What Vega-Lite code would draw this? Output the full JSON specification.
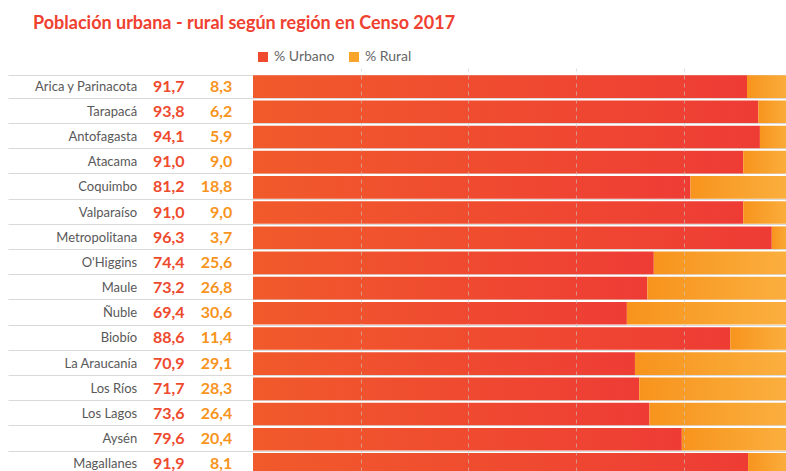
{
  "$schema": "https://vega.github.io/schema/vega-lite/v6.json",
  "autosize": {"type": "none"},
  "width": 778,
  "height": 397,
  "padding": {"left": 8, "top": 74, "right": 0, "bottom": 0},
  "background": "white",
  "title": {
    "text": "Población urbana - rural según región en Censo 2017",
    "anchor": "start",
    "dx": 25,
    "offset": 17,
    "font": "Lato",
    "fontSize": 18,
    "fontWeight": "bold",
    "color": "#EF4130"
  },
  "config": {
    "view": {"stroke": null},
    "locale": {"number": {"decimal": ",", "thousands": ".", "grouping": [3], "currency": ["$", ""]}}
  },
  "data": {
    "values": [
      {"region": "Arica y Parinacota", "urbano": 91.7, "rural": 8.3},
      {"region": "Tarapacá", "urbano": 93.8, "rural": 6.2},
      {"region": "Antofagasta", "urbano": 94.1, "rural": 5.9},
      {"region": "Atacama", "urbano": 91.0, "rural": 9.0},
      {"region": "Coquimbo", "urbano": 81.2, "rural": 18.8},
      {"region": "Valparaíso", "urbano": 91.0, "rural": 9.0},
      {"region": "Metropolitana", "urbano": 96.3, "rural": 3.7},
      {"region": "O'Higgins", "urbano": 74.4, "rural": 25.6},
      {"region": "Maule", "urbano": 73.2, "rural": 26.8},
      {"region": "Ñuble", "urbano": 69.4, "rural": 30.6},
      {"region": "Biobío", "urbano": 88.6, "rural": 11.4},
      {"region": "La Araucanía", "urbano": 70.9, "rural": 29.1},
      {"region": "Los Ríos", "urbano": 71.7, "rural": 28.3},
      {"region": "Los Lagos", "urbano": 73.6, "rural": 26.4},
      {"region": "Aysén", "urbano": 79.6, "rural": 20.4},
      {"region": "Magallanes", "urbano": 91.9, "rural": 8.1}
    ]
  },
  "encoding": {
    "y": {
      "field": "region",
      "type": "nominal",
      "sort": null,
      "scale": {"range": [0, 403], "paddingInner": 0.1, "paddingOuter": 0.05},
      "axis": {
        "title": null, "labels": false, "ticks": false, "domain": false,
        "grid": true, "tickBand": "extent", "gridColor": "#d9d9d9", "gridWidth": 1
      }
    }
  },
  "layer": [
    {
      "mark": {
        "type": "bar", "clip": true,
        "color": {"gradient": "linear", "x1": 0, "x2": 1, "y1": 0, "y2": 0,
          "stops": [{"offset": 0, "color": "#F15A2B"}, {"offset": 1, "color": "#EE3C35"}]}
      },
      "encoding": {
        "x": {
          "field": "urbano", "type": "quantitative",
          "scale": {"domain": [-45.48, 98.94], "nice": false, "zero": false},
          "axis": {
            "title": null, "labels": false, "ticks": false, "domain": false,
            "grid": true, "values": [20, 40, 60, 80], "gridDash": [4, 4],
            "gridColor": "#c8c8c8", "gridOpacity": 0.6, "zindex": 1
          }
        },
        "x2": {"datum": 0}
      }
    },
    {
      "mark": {
        "type": "bar", "clip": true,
        "color": {"gradient": "linear", "x1": 0, "x2": 1, "y1": 0, "y2": 0,
          "stops": [{"offset": 0, "color": "#F7941D"}, {"offset": 1, "color": "#FBB040"}]}
      },
      "encoding": {
        "x": {"field": "urbano", "type": "quantitative"},
        "x2": {"datum": 100}
      }
    },
    {
      "mark": {"type": "text", "align": "right", "baseline": "middle", "font": "Lato", "fontSize": 13, "color": "#595959"},
      "encoding": {
        "x": {"datum": -21.5},
        "text": {"field": "region"}
      }
    },
    {
      "mark": {"type": "text", "align": "right", "baseline": "middle", "font": "Lato", "fontSize": 16, "fontWeight": "bold", "color": "#EE4A2E"},
      "encoding": {
        "x": {"datum": -12.7},
        "text": {"field": "urbano", "type": "quantitative", "format": ".1f"}
      }
    },
    {
      "mark": {"type": "text", "align": "right", "baseline": "middle", "font": "Lato", "fontSize": 16, "fontWeight": "bold", "color": "#F7941D"},
      "encoding": {
        "x": {"datum": -3.85},
        "text": {"field": "rural", "type": "quantitative", "format": ".1f"}
      }
    },
    {
      "data": {"values": [{"serie": "% Urbano"}, {"serie": "% Rural"}]},
      "mark": {"type": "point", "shape": "square", "filled": true, "opacity": 0},
      "encoding": {
        "y": {"datum": "Arica y Parinacota"},
        "x": {"datum": 0},
        "color": {
          "field": "serie", "type": "nominal", "sort": null,
          "scale": {"domain": ["% Urbano", "% Rural"], "range": ["#EF4A30", "#F9A42A"]},
          "legend": {
            "title": null, "orient": "none", "direction": "horizontal",
            "legendX": 248, "legendY": -24,
            "symbolType": "square", "symbolSize": 100, "symbolOpacity": 1, "symbolStrokeWidth": 0,
            "labelFont": "Lato", "labelFontSize": 14, "labelColor": "#666666",
            "columnPadding": 12, "labelOffset": 4
          }
        }
      }
    }
  ]
}
